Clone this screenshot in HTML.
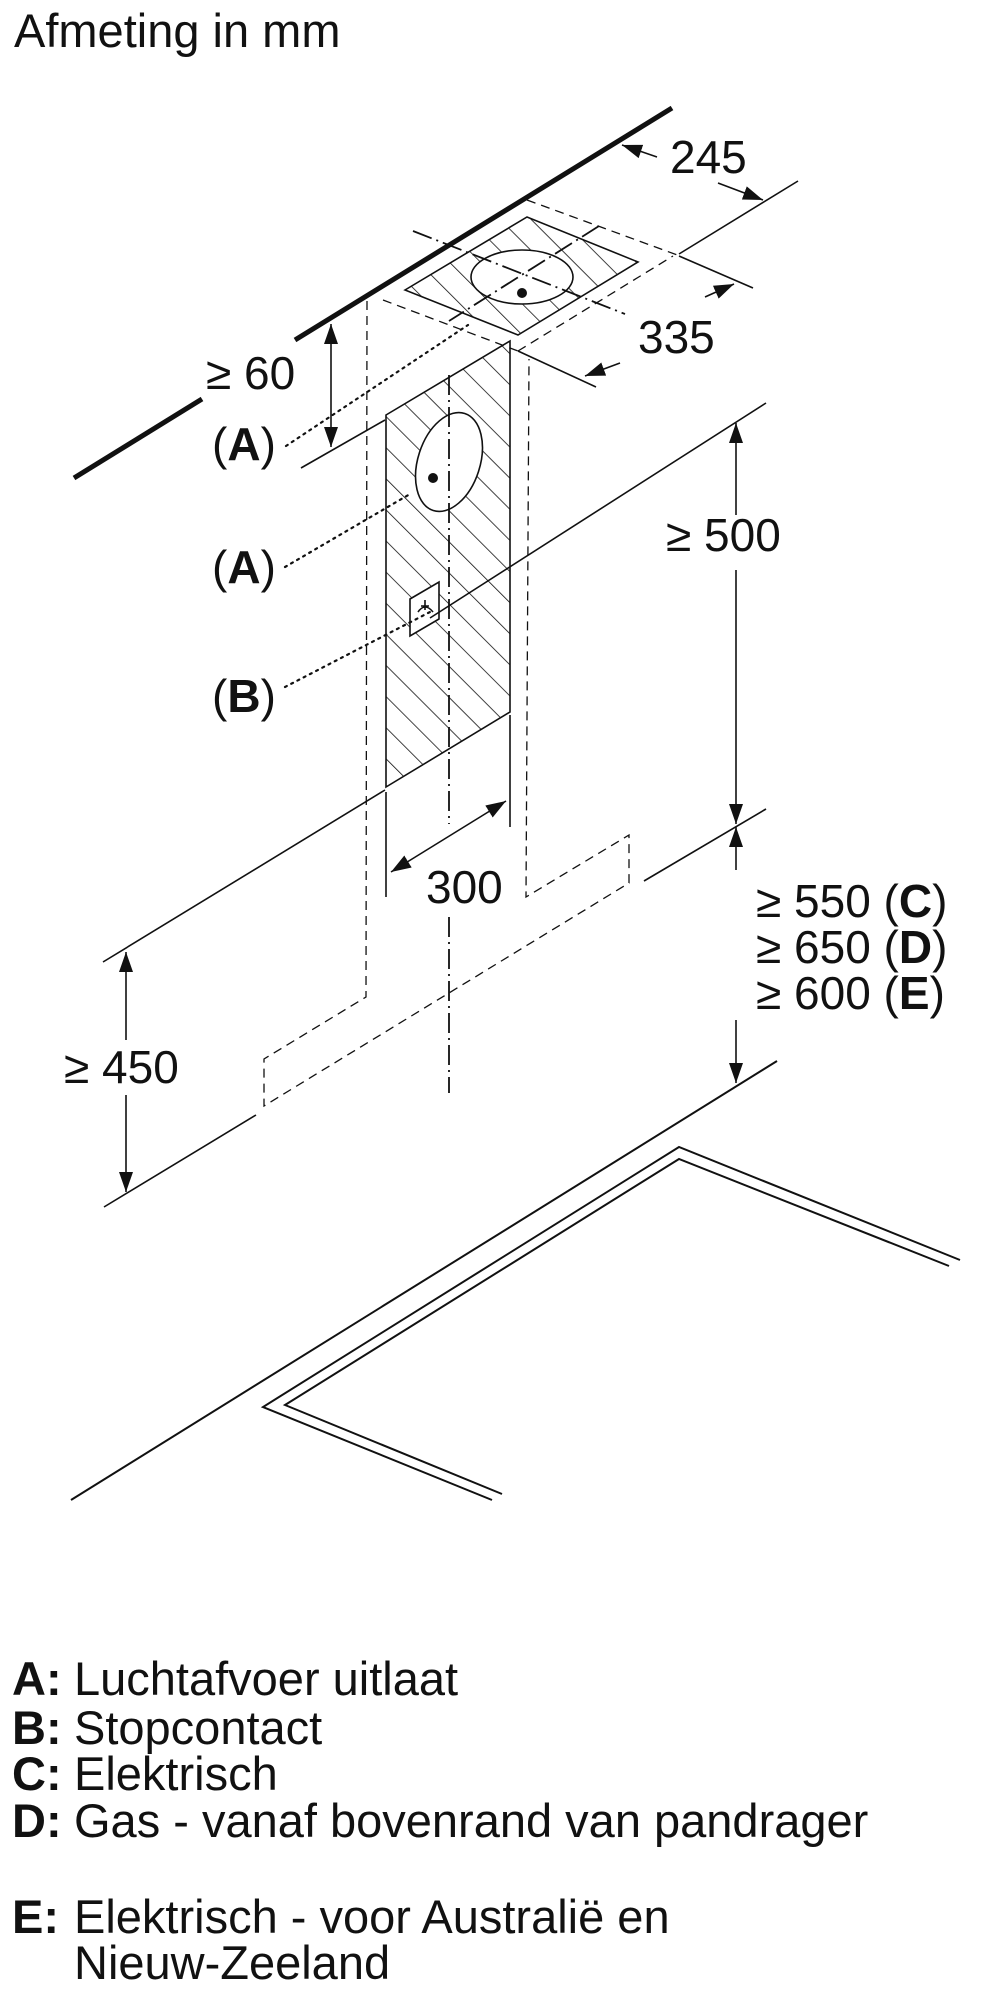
<!DOCTYPE html>
<html><head><meta charset="utf-8"><style>
body{margin:0;background:#fff}
svg{display:block}
text{font-family:"Liberation Sans",sans-serif;fill:#111}
</style></head><body>
<svg width="1000" height="2000" viewBox="0 0 1000 2000" xmlns="http://www.w3.org/2000/svg">
<defs>
<pattern id="h" width="22" height="22" patternUnits="userSpaceOnUse" patternTransform="rotate(-45)">
<line x1="0" y1="0" x2="0" y2="22" stroke="#111" stroke-width="1.6"/>
</pattern>
<marker id="a" viewBox="0 0 10 10" refX="10" refY="5" markerWidth="20" markerHeight="20" markerUnits="userSpaceOnUse" orient="auto-start-reverse">
<path d="M0,1.5 L10,5 L0,8.5 z" fill="#111"/></marker>
</defs>
<text x="14" y="47" font-size="47">Afmeting in mm</text>
<g stroke="#111" fill="none" stroke-width="1.6">
<line x1="672" y1="108" x2="295" y2="340" stroke-width="5"/>
<line x1="202" y1="399" x2="74" y2="478" stroke-width="5"/>
<polygon points="405,290 527,217 638,262 518,335" fill="url(#h)"/>
<ellipse cx="522" cy="277" rx="51" ry="27" fill="#fff"/>
<polygon points="386,415 510,341 510,712 386,787" fill="url(#h)"/>
<ellipse cx="449" cy="462" rx="31" ry="51" transform="rotate(18 449 462)" fill="#fff"/>
<polygon points="410,599 439,582 439,619 410,636" fill="#fff"/>
<path d="M418,612 q7,-10 15,0 M425,600 v10 M421,606 h8"/>
<g stroke-dasharray="9,6" stroke-width="1.3">
<polyline points="367,301 366,997 264,1059 264,1106 629,883 629,835 526,897 529,359"/>
<line x1="527" y1="200" x2="680" y2="256"/>
<line x1="383" y1="300" x2="518" y2="351"/>
<line x1="518" y1="351" x2="673" y2="256"/>
</g>
<g stroke-dasharray="20,5,2,5" stroke-width="1.8">
<line x1="449" y1="375" x2="449" y2="824"/>
<line x1="449" y1="917" x2="449" y2="1093"/>
<line x1="413" y1="231" x2="625" y2="314"/>
<line x1="599" y1="226" x2="449" y2="321"/>
</g>
<g stroke-dasharray="2,5" stroke-width="2.2" stroke-linecap="round">
<line x1="286" y1="446" x2="468" y2="325"/>
<line x1="285" y1="567" x2="410" y2="494"/>
<line x1="285" y1="687" x2="430" y2="612"/>
</g>
<line x1="679" y1="254" x2="798" y2="181"/>
<line x1="679" y1="256" x2="753" y2="288"/>
<line x1="518" y1="351" x2="596" y2="387"/>
<line x1="301" y1="468" x2="385" y2="420"/>
<line x1="430" y1="618" x2="766" y2="403"/>
<line x1="766" y1="809" x2="644" y2="881"/>
<line x1="103" y1="962" x2="385" y2="790"/>
<line x1="104" y1="1207" x2="256" y2="1115"/>
<line x1="386" y1="792" x2="386" y2="897"/>
<line x1="510" y1="715" x2="510" y2="827"/>
<line x1="657" y1="157" x2="622" y2="145" marker-end="url(#a)"/>
<line x1="718" y1="183" x2="763" y2="200" marker-end="url(#a)"/>
<line x1="705" y1="297" x2="734" y2="284" marker-end="url(#a)"/>
<line x1="620" y1="363" x2="585" y2="376" marker-end="url(#a)"/>
<line x1="331" y1="324" x2="331" y2="447" marker-start="url(#a)" marker-end="url(#a)"/>
<line x1="736" y1="423" x2="736" y2="515" marker-start="url(#a)"/>
<line x1="736" y1="570" x2="736" y2="824" marker-end="url(#a)"/>
<line x1="736" y1="827" x2="736" y2="870" marker-start="url(#a)"/>
<line x1="736" y1="1020" x2="736" y2="1083" marker-end="url(#a)"/>
<line x1="126" y1="952" x2="126" y2="1040" marker-start="url(#a)"/>
<line x1="126" y1="1095" x2="126" y2="1192" marker-end="url(#a)"/>
<line x1="391" y1="872" x2="506" y2="801" marker-start="url(#a)" marker-end="url(#a)"/>
<line x1="777" y1="1061" x2="71" y2="1500" stroke-width="2"/>
<polyline points="492,1500 263,1407 679,1147 960,1260" stroke-width="2"/>
<polyline points="502,1494 285,1405 679,1159 949,1266" stroke-width="2"/>
</g>
<circle cx="522" cy="293" r="5" fill="#111"/>
<circle cx="433" cy="478" r="5" fill="#111"/>
<g font-size="46">
<text x="670" y="173">245</text>
<text x="638" y="353">335</text>
<text x="206" y="389">≥ 60</text>
<text x="212" y="460">(<tspan font-weight="bold">A</tspan>)</text>
<text x="212" y="583">(<tspan font-weight="bold">A</tspan>)</text>
<text x="212" y="712">(<tspan font-weight="bold">B</tspan>)</text>
<text x="666" y="551">≥ 500</text>
<text x="426" y="903">300</text>
<text x="756" y="917">≥ 550 (<tspan font-weight="bold">C</tspan>)</text>
<text x="756" y="963">≥ 650 (<tspan font-weight="bold">D</tspan>)</text>
<text x="756" y="1009">≥ 600 (<tspan font-weight="bold">E</tspan>)</text>
<text x="64" y="1083">≥ 450</text>
</g>
<g font-size="47">
<text x="12" y="1695" font-weight="bold">A:</text><text x="74" y="1695">Luchtafvoer uitlaat</text>
<text x="12" y="1744" font-weight="bold">B:</text><text x="74" y="1744">Stopcontact</text>
<text x="12" y="1790" font-weight="bold">C:</text><text x="74" y="1790">Elektrisch</text>
<text x="12" y="1837" font-weight="bold">D:</text><text x="74" y="1837">Gas - vanaf bovenrand van pandrager</text>
<text x="12" y="1933" font-weight="bold">E:</text><text x="74" y="1933">Elektrisch - voor Australië en</text>
<text x="74" y="1979">Nieuw-Zeeland</text>
</g>
</svg>
</body></html>
